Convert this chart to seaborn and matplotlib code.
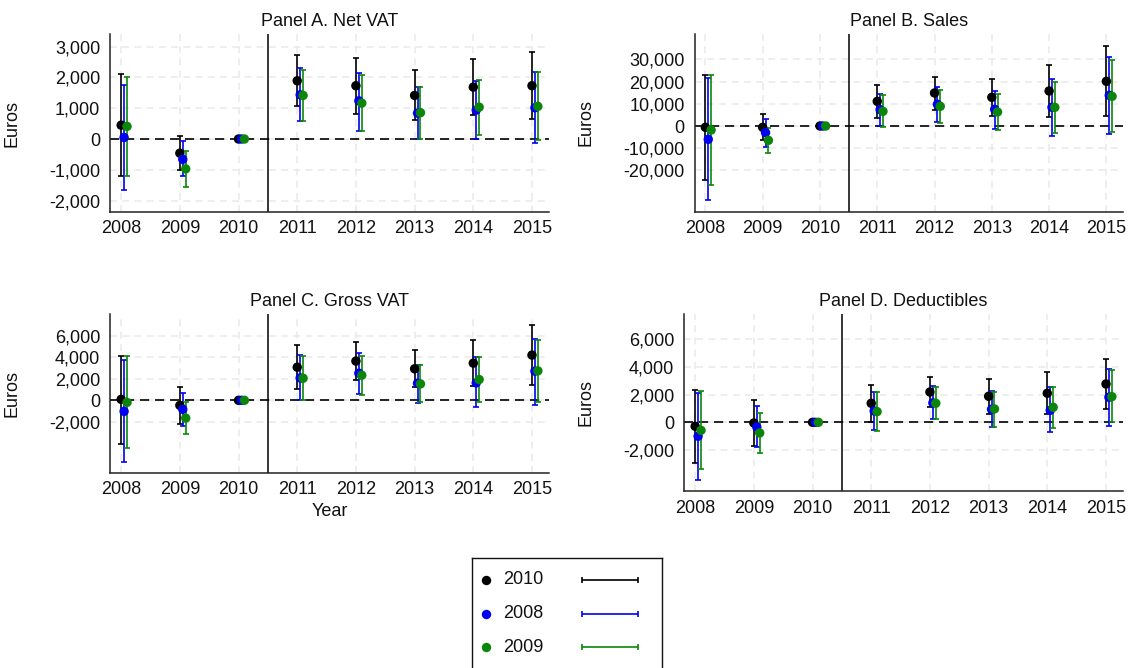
import numpy as np
import pandas as pd
import matplotlib
matplotlib.use("Agg")
import matplotlib.pyplot as plt
from matplotlib.ticker import FuncFormatter
import seaborn as sns

# ---- data -------------------------------------------------------------
years = [2008, 2009, 2010, 2011, 2012, 2013, 2014, 2015]
cohorts = ["2010", "2008", "2009"]
cohort_colors = ["#000000", "#0000f0", "#0a870a"]
cohort_offsets = [0.0, 0.05, 0.10]

# rows follow `cohorts`: 2010, 2008, 2009
net_vat_est = [[450, -460, 0, 1890, 1730, 1415, 1685, 1730],
               [50, -660, 0, 1435, 1240, 840, 940, 1015],
               [410, -970, 0, 1415, 1165, 855, 1035, 1060]]
net_vat_lo = [[-1200, -1020, 0, 1060, 820, 605, 780, 640],
              [-1660, -1210, 0, 590, 260, -10, 10, -140],
              [-1200, -1565, 0, 590, 260, 10, 130, -20]]
net_vat_hi = [[2100, 100, 0, 2720, 2645, 2235, 2590, 2840],
              [1760, -75, 0, 2320, 2140, 1695, 1880, 2160],
              [2020, -400, 0, 2245, 2080, 1695, 1920, 2160]]

sales_est = [[-600, -600, 0, 11100, 14850, 12900, 15750, 20100],
             [-6000, -3000, 0, 7350, 9750, 7500, 8400, 13800],
             [-1800, -6450, 0, 6600, 8850, 6300, 8400, 13350]]
sales_lo = [[-24450, -6450, 0, 3600, 7350, 4650, 4050, 4350],
            [-33450, -9450, 0, 0, 1800, -1500, -4500, -3750],
            [-26700, -12000, 0, -600, 1500, -1800, -3150, -2850]]
sales_hi = [[22800, 5250, 0, 18450, 22200, 21150, 27600, 36150],
            [21600, 3300, 0, 14550, 17550, 15900, 21000, 31200],
            [23100, -750, 0, 13800, 16200, 14250, 19950, 29700]]

gross_vat_est = [[90, -470, 0, 3090, 3660, 2940, 3470, 4220],
                 [-1030, -840, 0, 2090, 2530, 1590, 1625, 2720],
                 [-190, -1660, 0, 2060, 2340, 1530, 1940, 2750]]
gross_vat_lo = [[-4090, -2220, 0, 1060, 1875, 1280, 1375, 1470],
                [-5750, -2375, 0, 0, 625, -250, -590, -440],
                [-4470, -3125, 0, 0, 530, -190, -190, -160]]
gross_vat_hi = [[4125, 1220, 0, 5125, 5440, 4690, 5660, 7060],
                [3750, 660, 0, 4220, 4375, 3280, 4000, 5690],
                [4090, -190, 0, 4150, 4125, 3250, 4060, 5590]]

deduct_est = [[-290, -50, 0, 1375, 2190, 1880, 2100, 2770],
              [-1010, -340, 0, 820, 1400, 940, 870, 1810],
              [-580, -770, 0, 770, 1375, 965, 1085, 1855]]
deduct_lo = [[-2915, -1735, 0, 0, 1110, 600, 625, 940],
             [-4145, -1810, 0, -580, 215, -340, -720, -240],
             [-3375, -2240, 0, -650, 215, -310, -385, 25]]
deduct_hi = [[2310, 1590, 0, 2720, 3280, 3160, 3615, 4580],
             [2120, 1205, 0, 2190, 2600, 2265, 2580, 3830],
             [2265, 675, 0, 2190, 2555, 2190, 2580, 3760]]

panel_titles = ["Panel A. Net VAT", "Panel B. Sales",
                "Panel C. Gross VAT", "Panel D. Deductibles"]
panel_yticks = [[-2000, -1000, 0, 1000, 2000, 3000],
                [-20000, -10000, 0, 10000, 20000, 30000],
                [-2000, 0, 2000, 4000, 6000],
                [-2000, 0, 2000, 4000, 6000]]
panel_ylims = [(-2370, 3400), (-38550, 41250), (-6780, 8025), (-4988, 7807)]

panels = [(net_vat_est, net_vat_lo, net_vat_hi),
          (sales_est, sales_lo, sales_hi),
          (gross_vat_est, gross_vat_lo, gross_vat_hi),
          (deduct_est, deduct_lo, deduct_hi)]

# ---- style ------------------------------------------------------------
sns.set_style("white")
plt.rcParams["font.family"] = ["Liberation Sans", "DejaVu Sans"]
plt.rcParams["font.size"] = 13

FS = 13
W, H = 1133, 668
fig = plt.figure(figsize=(W / 100, H / 100), dpi=100)


def px_axes(left, top, right, bottom):
    return fig.add_axes([left / W, 1 - bottom / H, (right - left) / W, (bottom - top) / H])


# pixel boxes (left, top, right, bottom) of the four panels
boxes = [(110, 34.3, 549, 212),
         (694.5, 34.3, 1123, 211.7),
         (110, 314.3, 549, 473),
         (684, 314.3, 1123, 491.3)]

thousands = FuncFormatter(lambda v, p: f"{int(round(v)):,}")

for i, (box, (est, lo, hi)) in enumerate(zip(boxes, panels)):
    ax = px_axes(*box)

    rows = []
    for c, (name, off) in enumerate(zip(cohorts, cohort_offsets)):
        for j, yr in enumerate(years):
            rows.append({"cohort": name, "x": yr + off, "est": est[c][j],
                         "lo": lo[c][j], "hi": hi[c][j]})
    df = pd.DataFrame(rows)

    # confidence-interval caps per cohort
    for name, col in zip(cohorts, cohort_colors):
        d = df[df["cohort"] == name]
        ax.errorbar(d["x"], d["est"],
                    yerr=[d["est"] - d["lo"], d["hi"] - d["est"]],
                    fmt="none", ecolor=col, elinewidth=1.2,
                    capsize=2.4, capthick=1.2, zorder=3)

    sns.scatterplot(data=df, x="x", y="est", hue="cohort",
                    hue_order=cohorts, palette=cohort_colors,
                    s=46, linewidth=0, legend=False, ax=ax, zorder=4)

    ax.axhline(0, color="black", lw=1.2, dashes=(5.5, 3.5), zorder=2)
    ax.axvline(2010.5, color="black", lw=1.1, zorder=2)

    ax.set_xlim(2007.81, 2015.29)
    ax.set_ylim(*panel_ylims[i])
    ax.set_xticks(years)
    ax.set_xticklabels([str(y) for y in years])
    ax.set_yticks(panel_yticks[i])
    ax.yaxis.set_major_formatter(thousands)

    ax.grid(True, color="#e9e9e9", lw=1.1, dashes=(4.5, 3.5))
    ax.set_axisbelow(True)
    for s in ["top", "right"]:
        ax.spines[s].set_visible(False)
    for s in ["left", "bottom"]:
        ax.spines[s].set_color("#222222")
        ax.spines[s].set_linewidth(1.1)
    ax.tick_params(axis="both", direction="out", length=4, width=1,
                   color="#333333", labelsize=FS, pad=2, labelcolor="#111111")
    ax.tick_params(axis="y", length=5)

    ax.set_title(panel_titles[i], fontsize=FS, pad=6, color="#111111")
    ax.set_ylabel("Euros", fontsize=FS, color="#111111")
    ax.set_xlabel("Year" if i == 2 else "", fontsize=FS, color="#111111", labelpad=3)
    ax.yaxis.set_label_coords(((20 if box[0] < 500 else 595) - box[0]) / (box[2] - box[0]), 0.5)

# ---- key ---------------------------------------------------------------
lax = px_axes(472.3, 558.3, 661.7, 672)
lax.set_xlim(472.3, 661.7)
lax.set_ylim(672, 558.3)
lax.set_xticks([])
lax.set_yticks([])
for s in lax.spines.values():
    s.set_visible(True)
    s.set_color("#111111")
    s.set_linewidth(1.0)
key_rows = [579.7, 614.0, 647.3]
for name, col, yrow in zip(cohorts, cohort_colors, key_rows):
    lax.scatter([485.7], [yrow], s=46, color=col, linewidths=0, zorder=3)
    lax.text(503.3, yrow, name, va="center", ha="left", fontsize=FS, color="#111111")
    lax.errorbar([610.3], [yrow], xerr=[[28.0], [28.0]], fmt="none", ecolor=col,
                 elinewidth=1.2, capsize=2.4, capthick=1.2)

fig.savefig("out.png", dpi=100)
